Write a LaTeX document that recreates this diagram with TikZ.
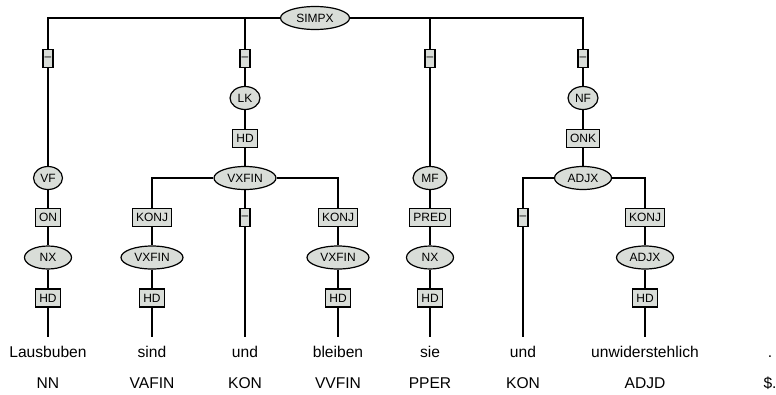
\documentclass[tikz,border=0pt]{standalone}
\usepackage{fontspec}
\setmainfont{Liberation Sans}
\usepackage{xcolor}
\usetikzlibrary{shapes.geometric}
\definecolor{catfill}{RGB}{217,221,216}

\begin{document}
\begin{tikzpicture}[x=1pt,y=-1pt,line width=1.2pt,
  cat/.style={ellipse,draw,fill=catfill,minimum width=#1,minimum height=23pt,inner sep=1pt,font=\fontsize{12}{13}\selectfont},
  fn/.style={draw,fill=catfill,minimum height=18pt,inner xsep=3.8pt,inner ysep=1pt,font=\fontsize{12}{13}\selectfont},
  gap/.style={fn,inner xsep=1.6pt},
  word/.style={font=\fontsize{15.6}{18}\selectfont,text height=11.5pt,text depth=3pt,inner ysep=7.5pt,anchor=base},
  tag/.style={font=\fontsize{15.6}{18}\selectfont,anchor=base}]
\useasboundingbox (0,0) rectangle (776,394);
\node[cat=69pt] (simpx) at (315,18) {SIMPX};
\node[gap] (g1) at (48,58.5) {--};
\node[gap] (g2) at (245,58.5) {--};
\node[gap] (g3) at (430,58.5) {--};
\node[gap] (g4) at (583,58.5) {--};
\node[cat=30pt] (lk) at (245,98) {LK};
\node[cat=30pt] (nf) at (583,98) {NF};
\node[fn] (hdlk) at (245,138.3) {HD};
\node[fn] (onk) at (583,138.3) {ONK};
\node[cat=29pt] (vf) at (48,178) {VF};
\node[cat=62pt] (vxfin) at (245,178) {VXFIN};
\node[cat=34pt] (mf) at (430,178) {MF};
\node[cat=57pt] (adjx) at (583,178) {ADJX};
\node[fn] (on) at (48,217.5) {ON};
\node[fn] (konja) at (152,217.5) {KONJ};
\node[gap] (g5) at (245,217.5) {--};
\node[fn] (konjb) at (338,217.5) {KONJ};
\node[fn] (pred) at (430,217.5) {PRED};
\node[gap] (g6) at (523,217.5) {--};
\node[fn] (konjc) at (645,217.5) {KONJ};
\node[cat=47pt] (nxa) at (48,257.5) {NX};
\node[cat=62pt] (vxfina) at (152,257.5) {VXFIN};
\node[cat=62pt] (vxfinb) at (338,257.5) {VXFIN};
\node[cat=47pt] (nxb) at (430,257.5) {NX};
\node[cat=57pt] (adjxa) at (645,257.5) {ADJX};
\node[fn] (hda) at (48,298) {HD};
\node[fn] (hdb) at (152,298) {HD};
\node[fn] (hdc) at (338,298) {HD};
\node[fn] (hdd) at (430,298) {HD};
\node[fn] (hde) at (645,298) {HD};
\foreach \x/\w/\p [count=\i] in {48/Lausbuben/NN,152/sind/VAFIN,245/und/KON,338/bleiben/VVFIN,
    430/sie/PPER,523/und/KON,645/unwiderstehlich/ADJD,770/./\$.}{
  \node[word] (w\i) at (\x,357) {\w};
  \node[tag] (t\i) at (\x,388) {\p};
}
\draw (simpx) -| (g1);
\draw (simpx) -| (g2);
\draw (simpx) -| (g3);
\draw (simpx) -| (g4);
\draw (g1) -- (vf) -- (on) -- (nxa) -- (hda) -- (w1);
\draw (g2) -- (lk) -- (hdlk) -- (vxfin);
\draw (vxfin) -| (konja);
\draw (vxfin) -| (konjb);
\draw (vxfin) -- (g5) -- (w3);
\draw (konja) -- (vxfina) -- (hdb) -- (w2);
\draw (konjb) -- (vxfinb) -- (hdc) -- (w4);
\draw (g3) -- (mf) -- (pred) -- (nxb) -- (hdd) -- (w5);
\draw (g4) -- (nf) -- (onk) -- (adjx);
\draw (adjx) -| (g6);
\draw (g6) -- (w6);
\draw (adjx) -| (konjc);
\draw (konjc) -- (adjxa) -- (hde) -- (w7);
\end{tikzpicture}
\end{document}
